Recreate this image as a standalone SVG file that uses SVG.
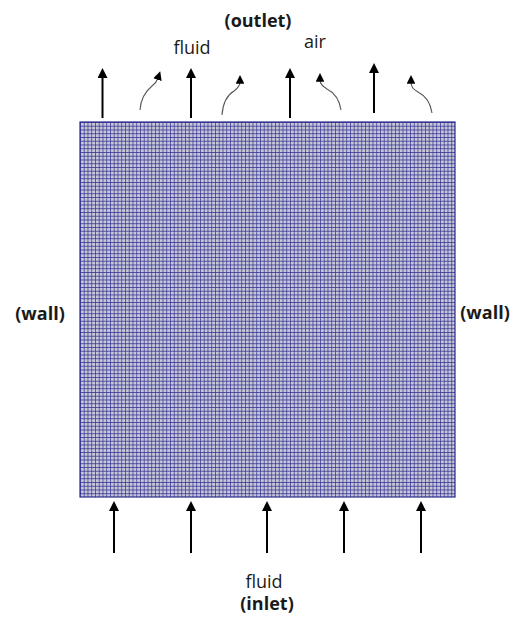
<svg xmlns="http://www.w3.org/2000/svg" width="515" height="619" viewBox="0 0 515 619">
<style>
  .lbl{font-family:"Open Sans","Liberation Sans",sans-serif;fill:#1a1a1a;text-anchor:middle}
  .b{font-weight:bold}
  .up{stroke:#000;stroke-width:2;fill:none;marker-end:url(#ah)}
  .cv{stroke:#555;stroke-width:1.1;fill:none;marker-end:url(#ahs)}
</style>
<defs>
  <marker id="ah" viewBox="0 0 10 10" refX="2" refY="5" markerWidth="5" markerHeight="5" orient="auto" markerUnits="strokeWidth">
    <path d="M0,0 L10,5 L0,10 Z" fill="#000"/>
  </marker>
  <marker id="ahs" viewBox="0 0 10 10" refX="2" refY="5" markerWidth="8" markerHeight="8" orient="auto" markerUnits="strokeWidth">
    <path d="M0,0 L10,5 L0,10 Z" fill="#000"/>
  </marker>
  <pattern id="grid" x="80" y="122" width="3.75" height="3.75" patternUnits="userSpaceOnUse">
    <rect width="3.75" height="3.75" fill="#c6c6d6"/>
    <path d="M0,0 H3.75 M0,0 V3.75" stroke="#28288e" stroke-width="1.3"/>
  </pattern>
</defs>
<rect width="515" height="619" fill="#fff"/>
<g id="mesh">
  <rect x="80" y="122" width="375" height="375" fill="url(#grid)"/>
  <rect x="80" y="122" width="375" height="375" fill="none" stroke="#28288e" stroke-width="1.2"/>
</g>
<g id="connectors">
  <line class="up" x1="102.5" y1="118" x2="102.5" y2="76"/>
  <line class="up" x1="191" y1="118" x2="191" y2="76"/>
  <line class="up" x1="290" y1="118" x2="290" y2="76"/>
  <line class="up" x1="374" y1="113" x2="374" y2="71"/>
  <path class="cv" d="M140,110 C141,97 147,90 152,86 C156,83 157,81 158,78"/>
  <path class="cv" d="M222,115 C223,101 229,94 234,91 C238,88 240,86 240,82"/>
  <path class="cv" d="M341,110 C339,97 333,92 327,89 C322,86 320,84 320,80"/>
  <path class="cv" d="M432,113 C430,100 424,95 418,92 C413,89 411,87 411,82"/>
  <line class="up" x1="114" y1="553" x2="114" y2="509"/>
  <line class="up" x1="191" y1="553" x2="191" y2="509"/>
  <line class="up" x1="267" y1="553" x2="267" y2="509"/>
  <line class="up" x1="344" y1="553" x2="344" y2="509"/>
  <line class="up" x1="421" y1="553" x2="421" y2="509"/>
</g>
<g id="labels">
  <text class="lbl b" x="258" y="27" font-size="18">(outlet)</text>
  <text class="lbl" x="192" y="54" font-size="18">fluid</text>
  <text class="lbl" x="315" y="48" font-size="18">air</text>
  <text class="lbl b" x="40" y="320" font-size="18">(wall)</text>
  <text class="lbl b" x="485" y="319" font-size="18">(wall)</text>
  <text class="lbl" x="264" y="588" font-size="18">fluid</text>
  <text class="lbl b" x="267" y="610" font-size="18">(inlet)</text>
</g>
</svg>
